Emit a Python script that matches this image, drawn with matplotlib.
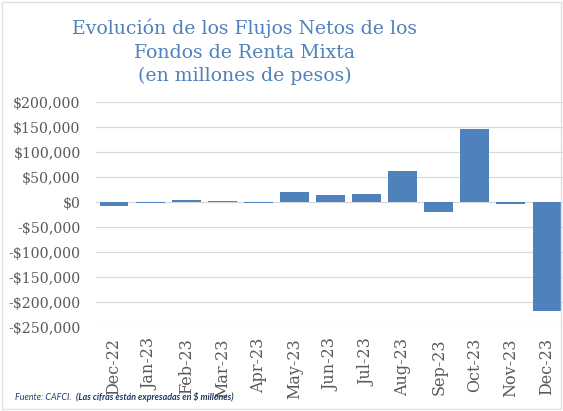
import matplotlib.pyplot as plt
from matplotlib.ticker import FuncFormatter
from matplotlib.patches import Rectangle

# Data (millones de pesos)
months = ["Dec-22", "Jan-23", "Feb-23", "Mar-23", "Apr-23", "May-23", "Jun-23",
          "Jul-23", "Aug-23", "Sep-23", "Oct-23", "Nov-23", "Dec-23"]
flows = [-8000, -1500, 5000, 3000, -1500, 21000, 15000,
         16000, 62000, -20000, 146500, -4500, -218000]
yticks = list(range(-250000, 200001, 50000))

bar_color = "#4F81BD"
text_color = "#595959"

fig = plt.figure(figsize=(5.63, 4.11), dpi=100)
ax = fig.add_axes([96 / 563, 1 - 327 / 411, (565 - 96) / 563, (327 - 102) / 411])

ax.bar(range(len(months)), flows, width=0.8, color=bar_color, zorder=3)
ax.set_xlim(-0.5, len(months) - 0.5)
ax.set_ylim(-250000, 200000)
ax.set_yticks(yticks)

def money(v, pos):
    v = int(round(v))
    return f"-${abs(v):,}" if v < 0 else f"${v:,}"

ax.yaxis.set_major_formatter(FuncFormatter(money))
ax.set_xticks(range(len(months)))
ax.set_xticklabels(months, rotation=90)
ax.grid(axis="y", color="#D9D9D9", linewidth=0.9, zorder=0)
for s in ax.spines.values():
    s.set_visible(False)
ax.tick_params(length=0, labelcolor=text_color)
ax.tick_params(axis="y", labelsize=10.2, pad=11)
ax.tick_params(axis="x", labelsize=11.5, pad=8)
for lbl in ax.get_xticklabels() + ax.get_yticklabels():
    lbl.set_family("DejaVu Serif")

fig.text(245 / 563, 1 - 52 / 411,
         "Evolución de los Flujos Netos de los\nFondos de Renta Mixta\n(en millones de pesos)",
         ha="center", va="center", family="DejaVu Serif", fontsize=13.6,
         color="#4F81BD", linespacing=1.38)

# source note
fig.text(15 / 563, 1 - 397 / 411, "Fuente: CAFCI.",
         ha="left", va="center", fontsize=6.5, family="Lato", style="italic", color="#2A3F66")
fig.text(76 / 563, 1 - 397 / 411, "(Las cifras están expresadas en $ millones)",
         ha="left", va="center", fontsize=6.4, family="Lato", style="italic",
         weight="bold", color="#1F3864")

fig.patches.append(Rectangle((0.003, 0.005), 0.994, 0.99, transform=fig.transFigure,
                             fill=False, edgecolor="#E0E0E0", linewidth=1))

fig.savefig("out.png", dpi=100)
